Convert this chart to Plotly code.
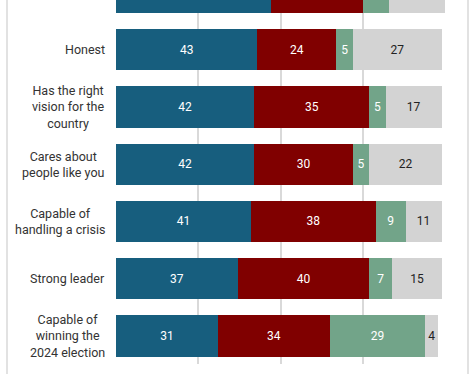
import plotly.graph_objects as go

# Categories (top one is cut off in the reference; its label is not visible)
categories = [" ", "Honest", "Has the right<br>vision for the<br>country",
              "Cares about<br>people like you", "Capable of<br>handling a crisis",
              "Strong leader", "Capable of<br>winning the<br>2024 election"]

series_a = [47, 43, 42, 42, 41, 37, 31]
series_b = [28, 24, 35, 30, 38, 40, 34]
series_c = [8, 5, 5, 5, 9, 7, 29]
series_d = [17, 27, 17, 22, 11, 15, 4]

colors = ["#175e7e", "#800000", "#72a489", "#d3d3d3"]
text_colors = ["white", "white", "white", "#222222"]

fig = go.Figure()
for vals, col, tcol in zip([series_a, series_b, series_c, series_d], colors, text_colors):
    # the top row's labels lie outside the visible window, so they are left blank
    texts = [""] + [str(v) for v in vals[1:]]
    fig.add_trace(go.Bar(
        x=vals, y=categories, orientation="h",
        marker=dict(color=col, line=dict(width=0)),
        text=texts, textposition="inside", insidetextanchor="middle",
        textfont=dict(color=tcol, size=12, family="Roboto"),
        cliponaxis=True, showlegend=False, hoverinfo="skip",
    ))

for cat in categories[1:]:
    fig.add_annotation(
        x=-0.027, xref="paper", xanchor="right",
        y=cat, yref="y", yanchor="middle",
        text=cat, showarrow=False, align="center",
        font=dict(size=12.5, family="Roboto", color="#333333"),
    )

# outer border lines of the card
for xp in [(7 - 116) / 329, (468 - 116) / 329]:
    fig.add_shape(type="line", xref="paper", yref="paper",
                  x0=xp, x1=xp, y0=-0.03, y1=1.01,
                  line=dict(color="#d9d9d9", width=1.5), layer="below")

fig.update_layout(
    width=474, height=374,
    margin=dict(l=116, r=29, t=0, b=10),
    barmode="stack", bargap=0.28,
    plot_bgcolor="white", paper_bgcolor="white",
    font=dict(family="Roboto"),
    xaxis=dict(range=[0, 100], tickvals=[0, 25, 50, 75, 100], showticklabels=False,
               showgrid=True, gridcolor="#d9d9d9", gridwidth=1.5, zeroline=False,
               showline=False, fixedrange=True),
    yaxis=dict(type="category", categoryorder="array", categoryarray=categories,
               range=[6.49, 0.13], showticklabels=False, showgrid=False,
               zeroline=False, showline=False, fixedrange=True),
)

fig.write_html("out.html", config={"displayModeBar": False},
               post_script="document.body.style.margin='0';")
